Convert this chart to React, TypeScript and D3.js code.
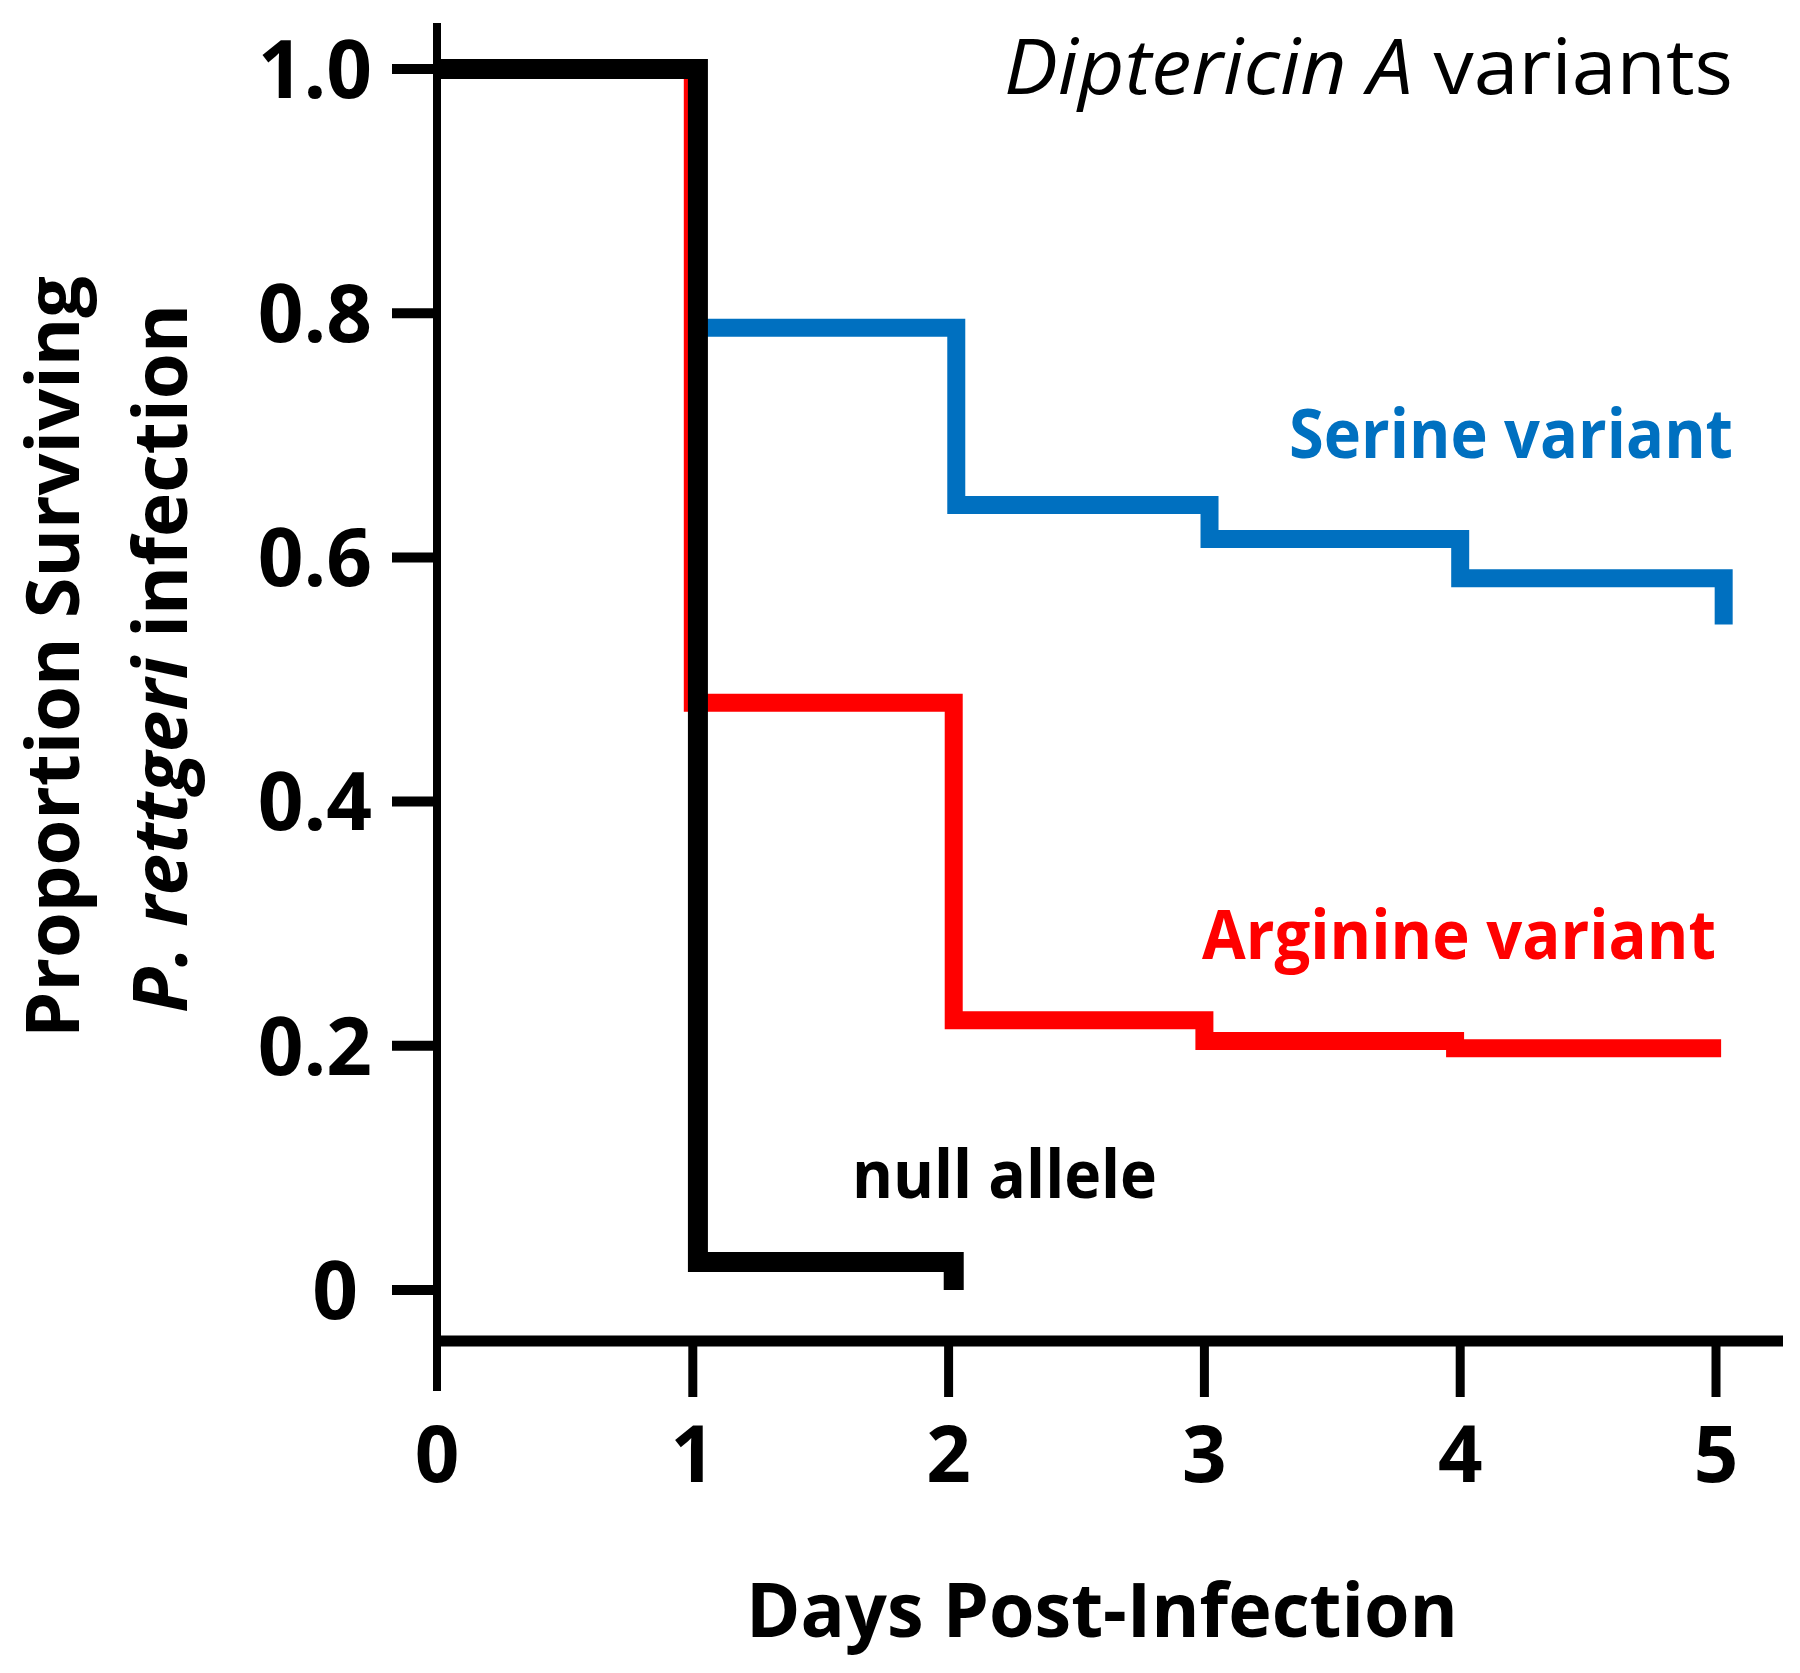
import React from "react";
import * as d3 from "d3";

const W = 1800;
const H = 1673;

// Data: [day, proportion surviving] step points (Kaplan–Meier style)
const nullAllele: [number, number][] = [
  [0, 1.0],
  [1.02, 0.023],
  [2.02, 0.0],
];
const arginineVariant: [number, number][] = [
  [0, 1.0],
  [1.0, 0.481],
  [2.02, 0.221],
  [3.0, 0.204],
  [3.98, 0.198],
  [5.02, 0.198],
];
const serineVariant: [number, number][] = [
  [0, 1.0],
  [1.02, 0.788],
  [2.03, 0.643],
  [3.02, 0.615],
  [4.0, 0.583],
  [5.03, 0.545],
];

const xTicks = [0, 1, 2, 3, 4, 5];
const xTickLabels = ["0", "1", "2", "3", "4", "5"];
const yTicks = [0, 0.2, 0.4, 0.6, 0.8, 1.0];
const yTickLabels = ["0", "0.2", "0.4", "0.6", "0.8", "1.0"];

const seriesNames = ["Arginine variant", "Serine variant", "null allele"];
const seriesColors = ["#FF0000", "#0070C0", "#000000"];

const FONT = "'Open Sans', 'Liberation Sans', sans-serif";

export default function App() {
  const x = d3.scaleLinear().domain([0, 5]).range([437, 1716]);
  const y = d3.scaleLinear().domain([0, 1]).range([1290, 69]);

  const line = d3
    .line<[number, number]>()
    .x((d) => x(d[0]))
    .y((d) => y(d[1]))
    .curve(d3.curveStepAfter);

  const xAxisY = 1341;

  return (
    <svg
      width={W}
      height={H}
      viewBox={`0 0 ${W} ${H}`}
      style={{ position: "absolute", left: 0, top: 0, background: "#fff" }}
    >
      <rect x={0} y={0} width={W} height={H} fill="#fff" />

      {/* Y axis */}
      <line x1={437} x2={437} y1={23} y2={1391} stroke="#000" strokeWidth={8} />
      {yTicks.map((t, i) => (
        <g key={"yt" + i}>
          <line x1={392} x2={437} y1={y(t)} y2={y(t)} stroke="#000" strokeWidth={10} />
          <text
            x={t === 0 ? 358 : 372}
            y={y(t)}
            dy="0.36em"
            textAnchor="end"
            fontFamily={FONT}
            fontWeight={700}
            fontSize={80}
            fill="#000"
          >
            {yTickLabels[i]}
          </text>
        </g>
      ))}

      {/* X axis */}
      <line x1={433} x2={1783} y1={xAxisY} y2={xAxisY} stroke="#000" strokeWidth={11} />
      {xTicks.map((t, i) => (
        <g key={"xt" + i}>
          {i > 0 && (
            <line x1={x(t)} x2={x(t)} y1={xAxisY} y2={1397} stroke="#000" strokeWidth={9} />
          )}
          <text
            x={x(t)}
            y={1482}
            textAnchor="middle"
            fontFamily={FONT}
            fontWeight={700}
            fontSize={78}
            fill="#000"
          >
            {xTickLabels[i]}
          </text>
        </g>
      ))}

      {/* Survival curves */}
      <path d={line(arginineVariant) || ""} fill="none" stroke={seriesColors[0]} strokeWidth={18} strokeLinejoin="miter" />
      <path d={line(serineVariant) || ""} fill="none" stroke={seriesColors[1]} strokeWidth={18} strokeLinejoin="miter" />
      <path d={line(nullAllele) || ""} fill="none" stroke={seriesColors[2]} strokeWidth={20} strokeLinejoin="miter" />

      {/* Series labels */}
      <text x={1289} y={458} textLength={444} lengthAdjust="spacingAndGlyphs" fontFamily={FONT} fontWeight={700} fontSize={68} fill={seriesColors[1]}>
        {seriesNames[1]}
      </text>
      <text x={1202} y={959} textLength={514} lengthAdjust="spacingAndGlyphs" fontFamily={FONT} fontWeight={700} fontSize={68} fill={seriesColors[0]}>
        {seriesNames[0]}
      </text>
      <text x={852} y={1198} textLength={305} lengthAdjust="spacingAndGlyphs" fontFamily={FONT} fontWeight={700} fontSize={66} fill={seriesColors[2]}>
        {seriesNames[2]}
      </text>

      {/* Title */}
      <text x={1004} y={94} textLength={729} lengthAdjust="spacingAndGlyphs" fontFamily={FONT} fontSize={76} fill="#000">
        <tspan fontStyle="italic">Diptericin A</tspan>
        <tspan> variants</tspan>
      </text>

      {/* X axis title */}
      <text x={746} y={1637} textLength={712} lengthAdjust="spacingAndGlyphs" fontFamily={FONT} fontWeight={700} fontSize={76} fill="#000">
        Days Post-Infection
      </text>

      {/* Y axis title */}
      <text
        transform="translate(79,1038) rotate(-90)"
        textLength={762}
        lengthAdjust="spacingAndGlyphs"
        fontFamily={FONT}
        fontWeight={700}
        fontSize={73}
        fill="#000"
      >
        Proportion Surviving
      </text>
      <text
        transform="translate(187,1013) rotate(-90)"
        textLength={709}
        lengthAdjust="spacingAndGlyphs"
        fontFamily={FONT}
        fontWeight={700}
        fontSize={75}
        fill="#000"
      >
        <tspan fontStyle="italic">P. rettgeri</tspan>
        <tspan> infection</tspan>
      </text>
    </svg>
  );
}
